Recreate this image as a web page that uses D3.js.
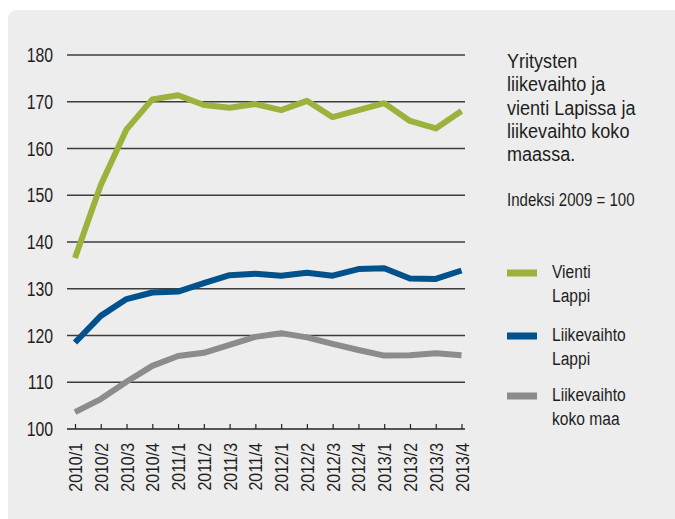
<!DOCTYPE html>
<html><head><meta charset="utf-8">
<script src="https://cdn.jsdelivr.net/npm/d3@7"></script>
<style>
html,body{margin:0;padding:0;background:#fff;}
svg{display:block;}
text{font-family:"Liberation Sans",Arial,sans-serif;fill:#1e1e1e;}
</style></head><body>
<svg id="c" width="675" height="519"></svg>
<script>
const categories = ["2010/1","2010/2","2010/3","2010/4","2011/1","2011/2","2011/3","2011/4","2012/1","2012/2","2012/3","2012/4","2013/1","2013/2","2013/3","2013/4"];
const vientiLappi = [136.6,152.2,164.1,170.5,171.4,169.3,168.7,169.5,168.2,170.2,166.7,168.2,169.7,165.9,164.3,168.0];
const liikevaihtoLappi = [118.5,124.2,127.8,129.2,129.4,131.2,132.9,133.2,132.8,133.4,132.8,134.2,134.4,132.2,132.1,133.9];
const liikevaihtoKokoMaa = [103.6,106.4,110.1,113.5,115.6,116.3,118.0,119.7,120.5,119.6,118.2,116.9,115.7,115.8,116.2,115.8];
const yTicks = [100,110,120,130,140,150,160,170,180];
const titleLines = ["Yritysten","liikevaihto ja","vienti Lapissa ja","liikevaihto koko","maassa."];
const subtitle = "Indeksi 2009 = 100";
const seriesNames = [["Vienti","Lappi"],["Liikevaihto","Lappi"],["Liikevaihto","koko maa"]];
const colors = ["#9bb33d","#00518c","#8c8c8c"];

const svg = d3.select("#c");
svg.append("rect").attr("x",8).attr("y",10).attr("width",680).attr("height",540).attr("rx",9).attr("fill","#ededed");

function label(parent, px, py, size, txt, anchor, rot, sx){
  return parent.append("text")
    .attr("transform",`translate(${px},${py})${rot?` rotate(${rot})`:""} scale(${sx||0.83},1)`)
    .attr("text-anchor",anchor||"start").attr("font-size",size).text(txt);
}

const x = d3.scalePoint().domain(categories).range([75,461.5]);
const y = d3.scaleLinear().domain([100,180]).range([429,55]);
const gx0 = 67, gx1 = 465;

// gridlines
svg.append("g").selectAll("line").data(yTicks.filter(t=>t>100)).join("line")
  .attr("x1",gx0).attr("x2",gx1).attr("y1",d=>y(d)).attr("y2",d=>y(d))
  .attr("stroke","#3c3c3c").attr("stroke-width",1.3);

// y labels
const gy = svg.append("g");
yTicks.forEach(t=>label(gy,53,y(t)+7,19.5,t,"end",null,0.81));

// x axis
const xAxis = d3.axisTop(x).tickSize(5).tickFormat("");
const gax = svg.append("g").attr("transform",`translate(0,${y(100)})`).call(xAxis);
gax.select(".domain").remove();
gax.selectAll(".tick line").attr("stroke","#222").attr("stroke-width",1.2);
svg.append("line").attr("x1",gx0).attr("x2",gx1).attr("y1",y(100)).attr("y2",y(100)).attr("stroke","#222").attr("stroke-width",1.3);

const gxl = svg.append("g");
categories.forEach(c=>label(gxl,x(c)+7,443,19.2,c,"end",-90,0.83));

// lines
const series = [vientiLappi, liikevaihtoLappi, liikevaihtoKokoMaa];
const line = d3.line().x((d,i)=>x(categories[i])).y(d=>y(d));
[2,1,0].forEach(k=>{
  svg.append("path").datum(series[k]).attr("d",line).attr("fill","none")
    .attr("stroke",colors[k]).attr("stroke-width",6).attr("stroke-linejoin","round");
});

// title
titleLines.forEach((t,i)=>label(svg,507,68+i*23.3,21,t,"start",null,0.86));
label(svg,507,206,17.5,subtitle,"start",null,0.86);

// legend
const legY = [273,336,396];
seriesNames.forEach((n,k)=>{
  svg.append("rect").attr("x",507).attr("y",legY[k]-3.5).attr("width",30).attr("height",7).attr("fill",colors[k]);
  n.forEach((t,j)=>label(svg,552,legY[k]+5+j*23.5,18.8,t,"start",null,0.83));
});
</script></body></html>
